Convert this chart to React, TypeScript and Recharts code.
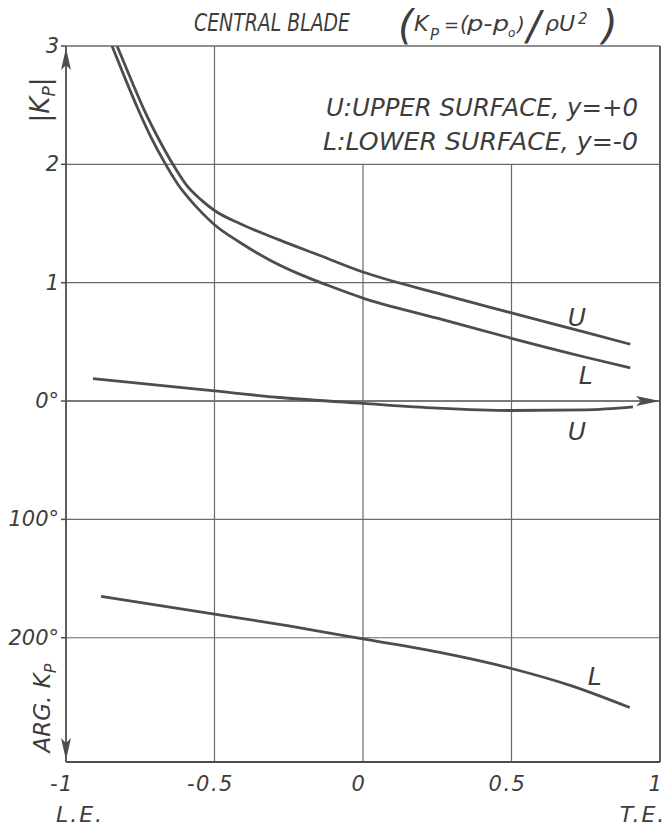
import React from 'react';
import { ComposedChart, Line, XAxis, YAxis, ReferenceLine, ReferenceDot } from 'recharts';

// axis ticks
const xTicks = [-1, -0.5, 0, 0.5, 1];
const xTickLabels = ['-1', '-0.5', '0', '0.5', '1'];
const yTicks = [3, 2, 1, 0, -1, -2];
const yTickLabels = ['3', '2', '1', '0°', '100°', '200°'];

// |Kp|, upper surface (U)
const upperMagX = [-0.828, -0.78, -0.735, -0.687, -0.64, -0.593, -0.545, -0.5, -0.415, -0.28, -0.145, 0, 0.25, 0.5, 0.75, 0.9];
const upperMag = [3.0, 2.71, 2.45, 2.21, 2.0, 1.82, 1.7, 1.61, 1.5, 1.36, 1.23, 1.09, 0.912, 0.745, 0.58, 0.48];

// |Kp|, lower surface (L)
const lowerMagX = [-0.845, -0.8, -0.758, -0.714, -0.667, -0.623, -0.582, -0.542, -0.5, -0.414, -0.313, -0.212, -0.121, 0, 0.25, 0.5, 0.75, 0.9];
const lowerMag = [3.0, 2.72, 2.47, 2.23, 2.01, 1.83, 1.7, 1.59, 1.49, 1.34, 1.19, 1.07, 0.98, 0.87, 0.7, 0.53, 0.37, 0.28];

// arg Kp in degrees (plotted downward below 0°)
const upperArgX = [-0.909, -0.75, -0.5, -0.28, 0, 0.25, 0.5, 0.75, 0.909];
const upperArgDeg = [-19, -15, -8.5, -3, 2, 6, 8, 7.5, 5];
const lowerArgX = [-0.882, -0.5, -0.25, 0, 0.25, 0.5, 0.7, 0.898];
const lowerArgDeg = [165, 180, 190, 201, 212, 226, 240.5, 259];

const magRows = (xs: number[], vs: number[]) => xs.map((x, i) => ({ x, v: vs[i] }));
const argRows = (xs: number[], degs: number[]) => xs.map((x, i) => ({ x, v: -degs[i] / 100 }));

const INK = '#3d3d3d';
const LINE = '#4d4d4d';
const GRID = '#6a6a6a';
const FONT = '"DejaVu Sans", sans-serif';

const txt = { fontFamily: FONT, fontStyle: 'italic' as const, fill: INK };

const XTick = (props: any) => {
  const { x, y, payload } = props;
  const i = xTicks.indexOf(payload.value);
  return (
    <g>
      <text x={x - 4} y={y + 29} textAnchor="middle" fontSize={21} letterSpacing={1.5} {...txt}>
        {xTickLabels[i]}
      </text>
      {payload.value === -1 && (
        <text x={x + 14} y={y + 60} textAnchor="middle" fontSize={22} letterSpacing={2} {...txt}>
          L.E.
        </text>
      )}
      {payload.value === 1 && (
        <text x={x - 17} y={y + 60} textAnchor="middle" fontSize={22} letterSpacing={2} {...txt}>
          T.E.
        </text>
      )}
    </g>
  );
};

const YTick = (props: any) => {
  const { x, y, payload } = props;
  const i = yTicks.indexOf(payload.value);
  return (
    <text x={x} y={y + 7} textAnchor="end" fontSize={21} {...txt}>
      {yTickLabels[i]}
    </text>
  );
};

const ArrowRight = (p: any) => (
  <polygon points={`${p.cx},${p.cy} ${p.cx - 24},${p.cy - 5} ${p.cx - 19},${p.cy} ${p.cx - 24},${p.cy + 5}`} fill={LINE} />
);
const ArrowUp = (p: any) => (
  <polygon points={`${p.cx},${p.cy + 2} ${p.cx - 5},${p.cy + 24} ${p.cx},${p.cy + 19} ${p.cx + 5},${p.cy + 24}`} fill={LINE} />
);
const ArrowDown = (p: any) => (
  <polygon points={`${p.cx},${p.cy - 2} ${p.cx - 5},${p.cy - 24} ${p.cx},${p.cy - 19} ${p.cx + 5},${p.cy - 24}`} fill={LINE} />
);
const letter = (s: string) => (p: any) => (
  <text x={p.cx} y={p.cy + 9} textAnchor="middle" fontSize={25} {...txt}>
    {s}
  </text>
);

export default function App() {
  return (
    <div style={{ position: 'relative', width: 668, height: 831, background: '#fff' }}>
      <style>{'body{margin:0}'}</style>
      <ComposedChart width={668} height={831} margin={{ top: 46, right: 8, bottom: 0, left: 0 }}>
        <XAxis
          type="number"
          dataKey="x"
          domain={[-1, 1]}
          ticks={xTicks}
          allowDataOverflow
          height={69}
          tickLine={false}
          tickSize={0}
          tickMargin={0}
          tick={<XTick />}
          axisLine={{ stroke: LINE, strokeWidth: 1.8 }}
        />
        <YAxis
          type="number"
          domain={[-3.05, 3]}
          ticks={yTicks}
          allowDataOverflow
          width={66}
          tickSize={5}
          tickMargin={2}
          tickLine={{ stroke: LINE, strokeWidth: 1.5 }}
          tick={<YTick />}
          axisLine={{ stroke: LINE, strokeWidth: 1.8 }}
        />

        {/* frame and grid */}
        <ReferenceLine y={3} stroke={GRID} strokeWidth={1.4} />
        <ReferenceLine x={1} stroke={LINE} strokeWidth={1.8} />
        <ReferenceLine y={2} stroke={GRID} strokeWidth={1.2} />
        <ReferenceLine y={1} stroke={GRID} strokeWidth={1.2} />
        <ReferenceLine y={0} stroke={LINE} strokeWidth={1.6} />
        <ReferenceLine y={-1} stroke={GRID} strokeWidth={1.2} />
        <ReferenceLine y={-2} stroke={GRID} strokeWidth={1.2} />
        <ReferenceLine x={-0.5} stroke={GRID} strokeWidth={1.2} />
        <ReferenceLine segment={[{ x: 0, y: -3.05 }, { x: 0, y: 2 }]} stroke={GRID} strokeWidth={1.2} />
        <ReferenceLine segment={[{ x: 0.5, y: -3.05 }, { x: 0.5, y: 2 }]} stroke={GRID} strokeWidth={1.2} />

        <ReferenceDot x={1} y={0} shape={ArrowRight} />
        <ReferenceDot x={-1} y={3} shape={ArrowUp} />
        <ReferenceDot x={-1} y={-3.05} shape={ArrowDown} />

        <Line data={magRows(upperMagX, upperMag)} dataKey="v" type="monotone" stroke={LINE} strokeWidth={2.8} dot={false} isAnimationActive={false} />
        <Line data={magRows(lowerMagX, lowerMag)} dataKey="v" type="monotone" stroke={LINE} strokeWidth={2.8} dot={false} isAnimationActive={false} />
        <Line data={argRows(upperArgX, upperArgDeg)} dataKey="v" type="monotone" stroke={LINE} strokeWidth={2.8} dot={false} isAnimationActive={false} />
        <Line data={argRows(lowerArgX, lowerArgDeg)} dataKey="v" type="monotone" stroke={LINE} strokeWidth={2.8} dot={false} isAnimationActive={false} />

        <ReferenceDot x={0.72} y={0.71} shape={letter('U')} />
        <ReferenceDot x={0.75} y={0.22} shape={letter('L')} />
        <ReferenceDot x={0.72} y={-0.25} shape={letter('U')} />
        <ReferenceDot x={0.78} y={-2.32} shape={letter('L')} />
      </ComposedChart>

      <svg width={668} height={831} style={{ position: 'absolute', left: 0, top: 0, pointerEvents: 'none' }}>
        {/* title */}
        <text x={194} y={31} fontSize={24} textLength={156} lengthAdjust="spacingAndGlyphs" {...txt}>
          CENTRAL  BLADE
        </text>
        <text x={398} y={39} fontSize={40} {...txt}>(</text>
        <text x={414} y={31} fontSize={22} {...txt}>K</text>
        <text x={430} y={40} fontSize={15} {...txt}>P</text>
        <text x={444} y={31} fontSize={18} {...txt}>=</text>
        <text x={460} y={31} fontSize={21} {...txt}>(</text>
        <text x={467} y={31} fontSize={22} textLength={42} lengthAdjust="spacingAndGlyphs" {...txt}>p-p</text>
        <text x={508} y={37} fontSize={12} {...txt}>o</text>
        <text x={517} y={31} fontSize={20} {...txt}>)</text>
        <text x={527} y={40} fontSize={40} {...txt}>/</text>
        <text x={545} y={31} fontSize={22} {...txt}>ρU</text>
        <text x={578} y={24} fontSize={15} {...txt}>2</text>
        <text x={602} y={39} fontSize={40} {...txt}>)</text>

        {/* legend */}
        <text x={326} y={116} fontSize={25} textLength={312} lengthAdjust="spacingAndGlyphs" {...txt}>
          U:UPPER SURFACE, y=+0
        </text>
        <text x={323} y={150} fontSize={25} textLength={315} lengthAdjust="spacingAndGlyphs" {...txt}>
          L:LOWER SURFACE, y=-0
        </text>

        {/* axis titles */}
        <g transform="translate(49,100) rotate(-90)">
          <text x={0} y={0} textAnchor="middle" fontSize={26} {...txt}>
            |K<tspan fontSize={17} dy={6}>P</tspan>
            <tspan dy={-6}>|</tspan>
          </text>
        </g>
        <g transform="translate(50,708) rotate(-90)">
          <text x={0} y={0} textAnchor="middle" fontSize={23} {...txt}>
            ARG. K<tspan fontSize={16} dy={6}>P</tspan>
          </text>
        </g>
      </svg>
    </div>
  );
}
